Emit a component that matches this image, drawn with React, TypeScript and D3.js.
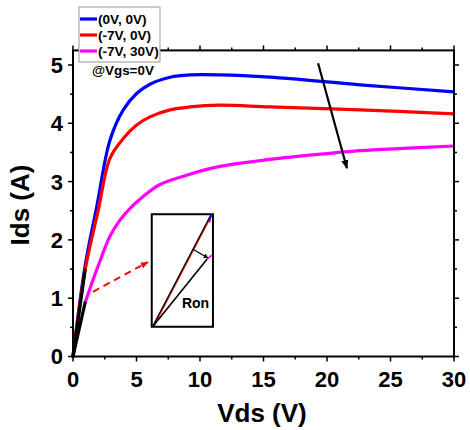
import React from "react";
import * as d3 from "d3";

const blueVds = [0, 0.95, 1.86, 2.91, 3.96, 5.01, 6.06, 7.64, 9.2, 11.57, 15.5, 22.6, 30];
const blueIds = [0, 1.55, 2.56, 3.71, 4.23, 4.51, 4.67, 4.79, 4.83, 4.83, 4.79, 4.66, 4.54];
const redVds = [0, 0.95, 1.99, 2.91, 3.96, 5.01, 6.06, 7.64, 9.2, 11.57, 15.5, 22.6, 30];
const redIds = [0, 1.48, 2.51, 3.4, 3.74, 3.97, 4.11, 4.23, 4.28, 4.31, 4.28, 4.23, 4.16];
const magVds = [0.95, 1.57, 2.2, 2.9, 3.6, 4.4, 5.5, 6.85, 8.95, 11.57, 15.5, 20, 22.6, 26, 30];
const magIds = [0.92, 1.31, 1.68, 2.06, 2.31, 2.52, 2.74, 2.95, 3.11, 3.26, 3.38, 3.48, 3.53, 3.57, 3.61];
// linear-region black segments (Vds, Ids) end points
const linVds = [0.95, 0.95];
const linIds = [1.48, 0.92];

const seriesNames = ["(0V, 0V)", "(-7V, 0V)", "(-7V, 30V)"];
const seriesColors = ["#0000ff", "#ff0000", "#ff00ff"];
const xTicks = [0, 5, 10, 15, 20, 25, 30];
const yTicks = [0, 1, 2, 3, 4, 5];

const W = 470, H = 430;
const FONT = "'Liberation Sans', Arial, Helvetica, sans-serif";

export default function App() {
  const x = d3.scaleLinear().domain([0, 30]).range([73, 454]);
  const y = d3.scaleLinear().domain([0, 5.25]).range([356.5, 50.4]);
  const line = d3
    .line<[number, number]>()
    .x((d) => x(d[0]))
    .y((d) => y(d[1]))
    .curve(d3.curveCatmullRom.alpha(0.5));
  const zip = (a: number[], b: number[]) => a.map((v, i) => [v, b[i]] as [number, number]);
  const series = [zip(blueVds, blueIds), zip(redVds, redIds), zip(magVds, magIds)];

  const x0 = x(0), x1 = x(30), yb = y(0), yt = y(5.25);
  const xMinor = d3.range(0, 30.01, 2.5);
  const yMinor = d3.range(0, 5.01, 0.5);

  // annotation geometry in data units
  const inset = { x0: 6.2, x1: 11.02, y0: 0.51, y1: 2.44 };
  const insO = [6.3, 0.52];
  const insTop = [10.9, 2.44];
  const insLow = [10.55, 1.67];
  const insLowEnd = [10.94, 1.74];

  return (
    <svg width={W} height={H} style={{ position: "absolute", left: 0, top: 0, background: "#fff" }} fontFamily={FONT}>
      <defs>
        <marker id="ahBlack" viewBox="0 0 10 10" refX="9" refY="5" markerWidth="5" markerHeight="5" orient="auto" markerUnits="userSpaceOnUse">
          <path d="M0,0 L10,5 L0,10 z" fill="#000" />
        </marker>
        <marker id="ahBig" viewBox="0 0 10 10" refX="9" refY="5" markerWidth="9" markerHeight="9" orient="auto" markerUnits="userSpaceOnUse">
          <path d="M0,1 L10,5 L0,9 z" fill="#000" />
        </marker>
        <marker id="ahRed" viewBox="0 0 10 10" refX="9" refY="5" markerWidth="8" markerHeight="8" orient="auto" markerUnits="userSpaceOnUse">
          <path d="M0,1 L10,5 L0,9 z" fill="#ff0000" />
        </marker>
      </defs>

      {/* curves */}
      {series.map((s, i) => (
        <path key={i} d={line(s) || ""} fill="none" stroke={seriesColors[i]} strokeWidth={3.2} strokeLinejoin="round" />
      ))}
      {linVds.map((v, i) => (
        <line key={"lin" + i} x1={x(0)} y1={y(0)} x2={x(v)} y2={y(linIds[i])} stroke="#000" strokeWidth={3.2} strokeLinecap="round" />
      ))}

      {/* axes frame */}
      <rect x={x0} y={yt} width={x1 - x0} height={yb - yt} fill="none" stroke="#000" strokeWidth={2} />
      {xMinor.map((v, i) => {
        const major = v % 5 === 0;
        return (
          <g key={"xt" + i}>
            <line x1={x(v)} x2={x(v)} y1={yb} y2={yb + (major ? 5 : 3)} stroke="#000" strokeWidth={1.5} />
            <line x1={x(v)} x2={x(v)} y1={yt} y2={yt - (major ? 5 : 3)} stroke="#000" strokeWidth={1.5} />
          </g>
        );
      })}
      {yMinor.map((v, i) => {
        const major = Math.abs(v - Math.round(v)) < 1e-6;
        return (
          <g key={"yt" + i}>
            <line x1={x0} x2={x0 - (major ? 5 : 3)} y1={y(v)} y2={y(v)} stroke="#000" strokeWidth={1.5} />
            <line x1={x1} x2={x1 + (major ? 5 : 3)} y1={y(v)} y2={y(v)} stroke="#000" strokeWidth={1.5} />
          </g>
        );
      })}
      {xTicks.map((v) => (
        <text key={"xl" + v} x={x(v)} y={387} textAnchor="middle" fontSize={22} fontWeight="bold">
          {v}
        </text>
      ))}
      {yTicks.map((v) => (
        <text key={"yl" + v} x={63} y={y(v)} dy="0.36em" textAnchor="end" fontSize={22} fontWeight="bold">
          {v}
        </text>
      ))}
      <text x={262} y={422} textAnchor="middle" fontSize={26} fontWeight="bold">
        Vds (V)
      </text>
      <text transform={`translate(29,205) rotate(-90)`} textAnchor="middle" fontSize={26} fontWeight="bold">
        Ids (A)
      </text>

      {/* legend */}
      <rect x={79} y={7} width={81} height={55} fill="#fff" stroke="#999" strokeWidth={1} />
      {seriesNames.map((n, i) => (
        <g key={"lg" + i}>
          <line x1={80} x2={97} y1={19 + i * 16} y2={19 + i * 16} stroke={seriesColors[i]} strokeWidth={3.2} />
          <text x={98} y={19 + i * 16} dy="0.36em" fontSize={13.6} fontWeight="bold">
            {n}
          </text>
        </g>
      ))}
      <text x={92} y={75} fontSize={13.4} fontWeight="bold">
        @Vgs=0V
      </text>

      {/* red dashed arrow */}
      <line x1={x(1.57)} y1={y(1.11)} x2={x(5.9)} y2={y(1.62)} stroke="#ff0000" strokeWidth={2} strokeDasharray="7,5" markerEnd="url(#ahRed)" />

      {/* inset */}
      <rect x={x(inset.x0)} y={y(inset.y1)} width={x(inset.x1) - x(inset.x0)} height={y(inset.y0) - y(inset.y1)} fill="#fff" stroke="#000" strokeWidth={2} />
      <line x1={x(insO[0])} y1={y(insO[1])} x2={x(insTop[0])} y2={y(insTop[1])} stroke="#000" strokeWidth={1.6} />
      <line x1={x(insO[0]) + 1} y1={y(insO[1])} x2={x(insTop[0]) + 1} y2={y(insTop[1])} stroke="#ff0000" strokeWidth={0.9} />
      <line x1={x(10.75)} y1={y(2.3)} x2={x(insTop[0])} y2={y(insTop[1])} stroke="#0000ff" strokeWidth={1.2} />
      <line x1={x(insO[0])} y1={y(insO[1])} x2={x(insLow[0])} y2={y(insLow[1])} stroke="#000" strokeWidth={1.6} />
      <line x1={x(insLow[0])} y1={y(insLow[1])} x2={x(insLowEnd[0])} y2={y(insLowEnd[1])} stroke="#ff00ff" strokeWidth={1.6} />
      <line x1={x(9.45)} y1={y(1.84)} x2={x(10.63)} y2={y(1.69)} stroke="#000" strokeWidth={1.3} markerEnd="url(#ahBlack)" />
      <text x={x(8.58)} y={y(0.83)} fontSize={14} fontWeight="bold">
        Ron
      </text>

      {/* trend arrow */}
      <line x1={x(19.3)} y1={y(5.03)} x2={x(21.57)} y2={y(3.23)} stroke="#000" strokeWidth={2.2} markerEnd="url(#ahBig)" />
    </svg>
  );
}
